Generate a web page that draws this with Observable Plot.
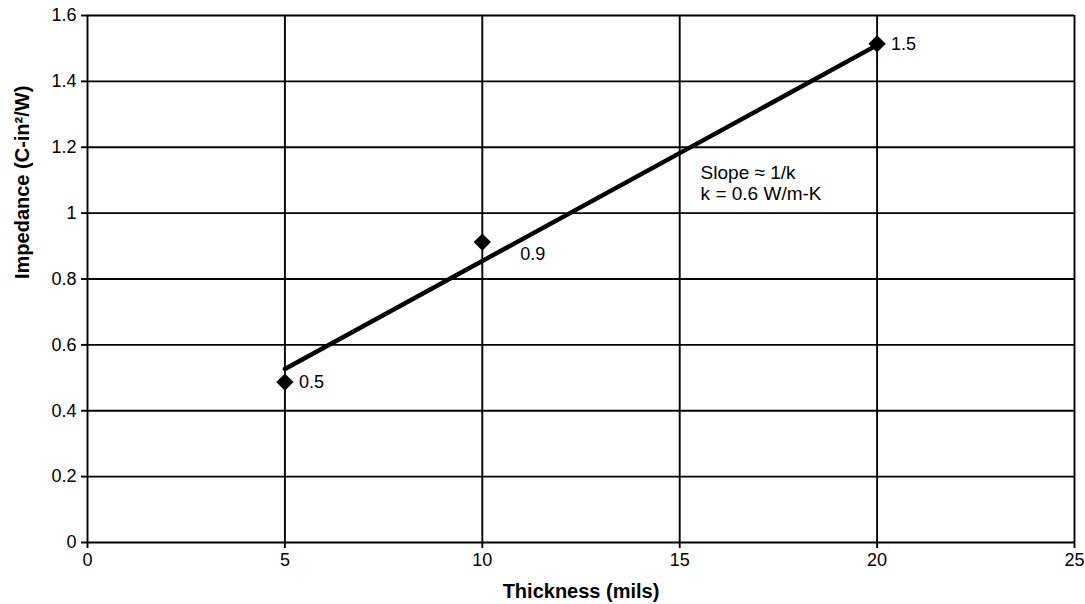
<!DOCTYPE html>
<html><head><meta charset="utf-8">
<script src="https://cdn.jsdelivr.net/npm/d3@7"></script>
<script src="https://cdn.jsdelivr.net/npm/@observablehq/plot@0.6"></script>
<style>
html,body{margin:0;padding:0;background:#fff;}
</style>
</head><body><div id="chart"></div>
<script>
const thickness = [5, 10, 20];
const impedance = [0.487, 0.912, 1.514];
const pointLabels = ["0.5", "0.9", "1.5"];
const trendThickness = [5, 20];
const trendImpedance = [0.527, 1.51];
const xTicks = [0, 5, 10, 15, 20, 25];
const yTicks = [0, 0.2, 0.4, 0.6, 0.8, 1, 1.2, 1.4, 1.6];
const xTitle = "Thickness (mils)";
const yTitle = "Impedance (C-in²/W)";
const noteText = "Slope ≈ 1/k\nk = 0.6 W/m-K";
const noteX = 15.53, noteY = 1.093;

const points = thickness.map((t, i) => ({t, z: impedance[i], label: pointLabels[i]}));
const trend = trendThickness.map((t, i) => ({t, z: trendImpedance[i]}));

const font = "'Liberation Sans', Arial, Helvetica, sans-serif";
const gridW = 1.9;

const chart = Plot.plot({
  width: 1085,
  height: 604,
  marginLeft: 87,
  marginRight: 11,
  marginTop: 15,
  marginBottom: 62,
  style: {background: "#fff", color: "#000", fontFamily: font},
  x: {domain: [0, 25]},
  y: {domain: [0, 1.6]},
  marks: [
    Plot.gridX(xTicks, {stroke: "#000", strokeOpacity: 1, strokeWidth: gridW}),
    Plot.gridY(yTicks, {stroke: "#000", strokeOpacity: 1, strokeWidth: gridW}),
    Plot.axisX(xTicks, {tickSize: 6, tickPadding: 5, stroke: "#000", strokeWidth: gridW, fontSize: 18, fontFamily: font, fill: "#000", label: null, tickFormat: d => `${d}`}),
    Plot.axisY(yTicks, {tickSize: 6, tickPadding: 5, stroke: "#000", strokeWidth: gridW, fontSize: 18, fontFamily: font, fill: "#000", label: null, tickFormat: d => `${d}`}),
    Plot.line(trend, {x: "t", y: "z", stroke: "#000", strokeWidth: 4.5}),
    Plot.dot(points, {x: "t", y: "z", symbol: "diamond2", r: 7.8, fill: "#000", stroke: "none"}),
    Plot.text(points.filter(d => d.label !== "0.9"), {x: "t", y: "z", text: "label", dx: 14, textAnchor: "start", lineAnchor: "middle", fontSize: 18, fontFamily: font, fill: "#000"}),
    Plot.text(points.filter(d => d.label === "0.9"), {x: "t", y: "z", text: "label", dx: 38, dy: 12, textAnchor: "start", lineAnchor: "middle", fontSize: 18, fontFamily: font, fill: "#000"}),
    Plot.text([noteText], {x: noteX, y: noteY, text: d => d, textAnchor: "start", lineAnchor: "middle", lineHeight: 1.1, fontSize: 19, fontFamily: font, fill: "#000"}),
    Plot.text([xTitle], {frameAnchor: "bottom", text: d => d, dy: 49, lineAnchor: "middle", fontSize: 20, fontWeight: "bold", fontFamily: font, fill: "#000"}),
    Plot.text([yTitle], {frameAnchor: "left", text: d => d, dx: -65, rotate: -90, lineAnchor: "middle", fontSize: 20, fontWeight: "bold", fontFamily: font, fill: "#000"})
  ]
});
document.getElementById("chart").appendChild(chart);
</script>
</body></html>
